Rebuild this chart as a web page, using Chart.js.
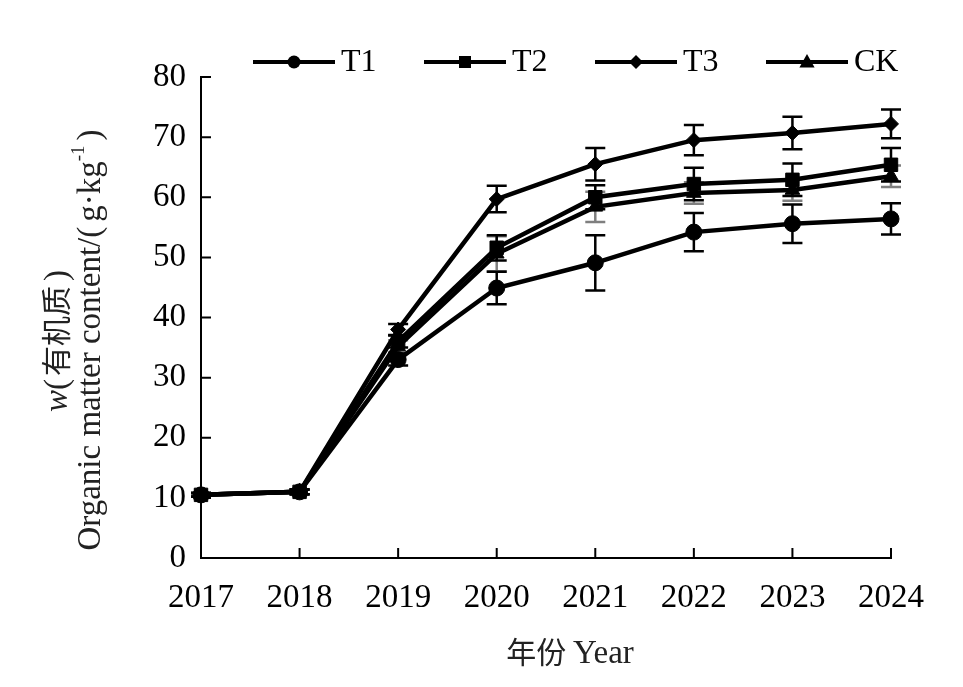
<!DOCTYPE html>
<html>
<head>
<meta charset="utf-8">
<script src="https://cdn.jsdelivr.net/npm/chart.js@4.4.1/dist/chart.umd.min.js"></script>
<style>
  html, body { margin: 0; padding: 0; background: #fff; }
  #wrap { width: 963px; height: 687px; position: relative; }
</style>
</head>
<body>
<div id="wrap"><canvas id="myChart"></canvas></div>
<script>
// data
var years = ['2017', '2018', '2019', '2020', '2021', '2022', '2023', '2024'];
var yTicks = [0, 10, 20, 30, 40, 50, 60, 70, 80];

var t1 = [10.5, 11.0, 33.0, 44.9, 49.1, 54.2, 55.6, 56.4];
var t2 = [10.5, 11.0, 36.0, 51.6, 60.0, 62.2, 62.9, 65.4];
var t3 = [10.5, 11.0, 38.0, 59.7, 65.5, 69.5, 70.7, 72.2];
var ck = [10.5, 11.0, 35.2, 50.6, 58.4, 60.7, 61.2, 63.5];

var t1Err = [0.3, 0.4, 1.0, 2.7, 4.6, 3.2, 3.2, 2.6];
var t2Err = [0.3, 0.4, 1.0, 2.1, 2.0, 2.7, 2.7, 2.8];
var t3Err = [0.3, 0.4, 0.9, 2.2, 2.7, 2.5, 2.7, 2.4];
var ckErr = [0.3, 0.4, 1.0, 2.9, 2.5, 1.8, 1.8, 1.8];

var SERIF = "'Liberation Serif', 'Times New Roman', serif";
var CJK = "'Noto Sans CJK SC', sans-serif";

function series(label, data, err, shape, radius, errColor) {
    return {
        label: label,
        data: data,
        err: err,
        errColor: errColor,
        borderColor: '#000',
        backgroundColor: '#000',
        borderWidth: 4.5,
        pointStyle: shape,
        pointRadius: radius,
        pointHoverRadius: radius,
        pointBackgroundColor: '#000',
        pointBorderColor: '#000',
        pointBorderWidth: 1,
        tension: 0
    };
}

function drawShape(ctx, shape, x, y, r) {
    ctx.beginPath();
    if (shape === 'circle') {
        ctx.arc(x, y, r, 0, Math.PI * 2);
    } else if (shape === 'rect') {
        ctx.rect(x - r, y - r, 2 * r, 2 * r);
    } else if (shape === 'rectRot') {
        ctx.moveTo(x, y - r);
        ctx.lineTo(x + r, y);
        ctx.lineTo(x, y + r);
        ctx.lineTo(x - r, y);
        ctx.closePath();
    } else if (shape === 'triangle') {
        ctx.moveTo(x, y - r);
        ctx.lineTo(x + r * 0.95, y + r * 0.7);
        ctx.lineTo(x - r * 0.95, y + r * 0.7);
        ctx.closePath();
    }
    ctx.fill();
}

// error bars, under the markers
var errorBars = {
    id: 'errorBars',
    beforeDatasetsDraw: function (chart) {
        var ctx = chart.ctx;
        var xs = chart.scales.x, ys = chart.scales.y;
        var order = [3, 0, 1, 2];
        ctx.save();
        order.forEach(function (di) {
            var ds = chart.data.datasets[di];
            ctx.strokeStyle = ds.errColor;
            ctx.lineWidth = 2.5;
            ds.data.forEach(function (v, i) {
                var x = xs.getPixelForValue(i);
                var top = ys.getPixelForValue(v + ds.err[i]);
                var bot = ys.getPixelForValue(v - ds.err[i]);
                ctx.beginPath();
                ctx.moveTo(x, top); ctx.lineTo(x, bot);
                ctx.moveTo(x - 10, top); ctx.lineTo(x + 10, top);
                ctx.moveTo(x - 10, bot); ctx.lineTo(x + 10, bot);
                ctx.stroke();
            });
        });
        ctx.restore();
    }
};

// inward tick marks, legend and axis titles
var decorations = {
    id: 'decorations',
    afterDraw: function (chart) {
        var ctx = chart.ctx;
        var area = chart.chartArea;
        var xs = chart.scales.x, ys = chart.scales.y;
        ctx.save();
        ctx.strokeStyle = '#000';
        ctx.lineWidth = 2;
        ctx.beginPath();
        yTicks.forEach(function (t) {
            if (t === 0) return;
            var y = ys.getPixelForValue(t);
            ctx.moveTo(area.left, y); ctx.lineTo(area.left + 10, y);
        });
        years.forEach(function (yr, i) {
            if (i === 0) return;
            var x = xs.getPixelForValue(i);
            ctx.moveTo(x, area.bottom); ctx.lineTo(x, area.bottom - 10);
        });
        ctx.stroke();

        // legend
        var legendShapes = { circle: 6.5, rect: 6, rectRot: 7, triangle: 8 };
        ctx.font = '32px ' + SERIF;
        ctx.textBaseline = 'middle';
        ctx.textAlign = 'left';
        ctx.fillStyle = '#000';
        chart.data.datasets.forEach(function (ds, i) {
            var x0 = 253 + i * 171, y = 62;
            ctx.lineWidth = 4;
            ctx.beginPath();
            ctx.moveTo(x0, y); ctx.lineTo(x0 + 82, y);
            ctx.stroke();
            drawShape(ctx, ds.pointStyle, x0 + 41, y, legendShapes[ds.pointStyle]);
            ctx.fillText(ds.label, x0 + 88, y + 1);
        });

        // x title
        ctx.textAlign = 'left';
        var xt1 = '年份 ', xt2 = 'Year';
        ctx.font = '30px ' + CJK;
        var w1 = ctx.measureText(xt1).width;
        ctx.font = '33px ' + SERIF;
        var w2 = ctx.measureText(xt2).width;
        var sx = 570 - (w1 + w2) / 2;
        ctx.fillStyle = '#222';
        ctx.font = '30px ' + CJK;
        ctx.fillText(xt1, sx, 652);
        ctx.font = '33px ' + SERIF;
        ctx.fillText(xt2, sx + w1, 654);

        // y title, two rotated lines
        function rotLine(segs, cx, cy) {
            var total = 0;
            segs.forEach(function (s) { ctx.font = s.font; s.w = ctx.measureText(s.text).width + (s.gap || 0); total += s.w; });
            ctx.save();
            ctx.translate(cx, cy);
            ctx.rotate(-Math.PI / 2);
            ctx.textBaseline = 'middle';
            ctx.textAlign = 'left';
            var p = -total / 2;
            segs.forEach(function (s) {
                ctx.font = s.font;
                ctx.fillText(s.text, p, s.dy || 0);
                p += s.w;
            });
            ctx.restore();
        }
        ctx.fillStyle = '#222';
        rotLine([
            { text: 'w', font: 'italic 33px ' + SERIF, dy: 2 },
            { text: '(', font: '33px ' + SERIF, dy: 2, gap: 3 },
            { text: '有机质', font: '30px ' + CJK, gap: 5 },
            { text: ')', font: '33px ' + SERIF, dy: 2 }
        ], 56, 341);
        rotLine([
            { text: 'Organic matter content/', font: '33px ' + SERIF, dy: 2 },
            { text: '(', font: '33px ' + SERIF, dy: 2, gap: 5 },
            { text: 'g·kg', font: '33px ' + SERIF, dy: 2 },
            { text: '-1', font: '19px ' + SERIF, dy: -10, gap: 5 },
            { text: ')', font: '33px ' + SERIF, dy: 2 }
        ], 89, 340);
        ctx.restore();
    }
};

var ctx = document.getElementById('myChart').getContext('2d');

new Chart(ctx, {
    type: 'line',
    data: {
        labels: years,
        datasets: [
            series('T1', t1, t1Err, 'circle', 8, '#000'),
            series('T2', t2, t2Err, 'rect', 9.5, '#000'),
            series('T3', t3, t3Err, 'rectRot', 7.5, '#000'),
            series('CK', ck, ckErr, 'triangle', 8.5, '#7f7f7f')
        ]
    },
    options: {
        responsive: true,
        maintainAspectRatio: false,
        animation: false,
        layout: {
            padding: { left: 0, right: 72, top: 77, bottom: 0 }
        },
        plugins: {
            legend: { display: false },
            title: { display: false },
            tooltip: { enabled: false }
        },
        scales: {
            x: {
                type: 'category',
                offset: false,
                grid: { display: false, drawTicks: false },
                border: { display: true, color: '#000', width: 2 },
                ticks: {
                    color: '#000',
                    padding: 21,
                    maxRotation: 0,
                    font: { family: SERIF, size: 33 }
                },
                afterFit: function (scale) { scale.height = 129; }
            },
            y: {
                min: 0,
                max: 80,
                grid: { display: false, drawTicks: false },
                border: { display: true, color: '#000', width: 2 },
                ticks: {
                    stepSize: 10,
                    color: '#000',
                    padding: 15,
                    font: { family: SERIF, size: 33 }
                },
                afterFit: function (scale) { scale.width = 201; }
            }
        }
    },
    plugins: [errorBars, decorations]
});
</script>
</body>
</html>
